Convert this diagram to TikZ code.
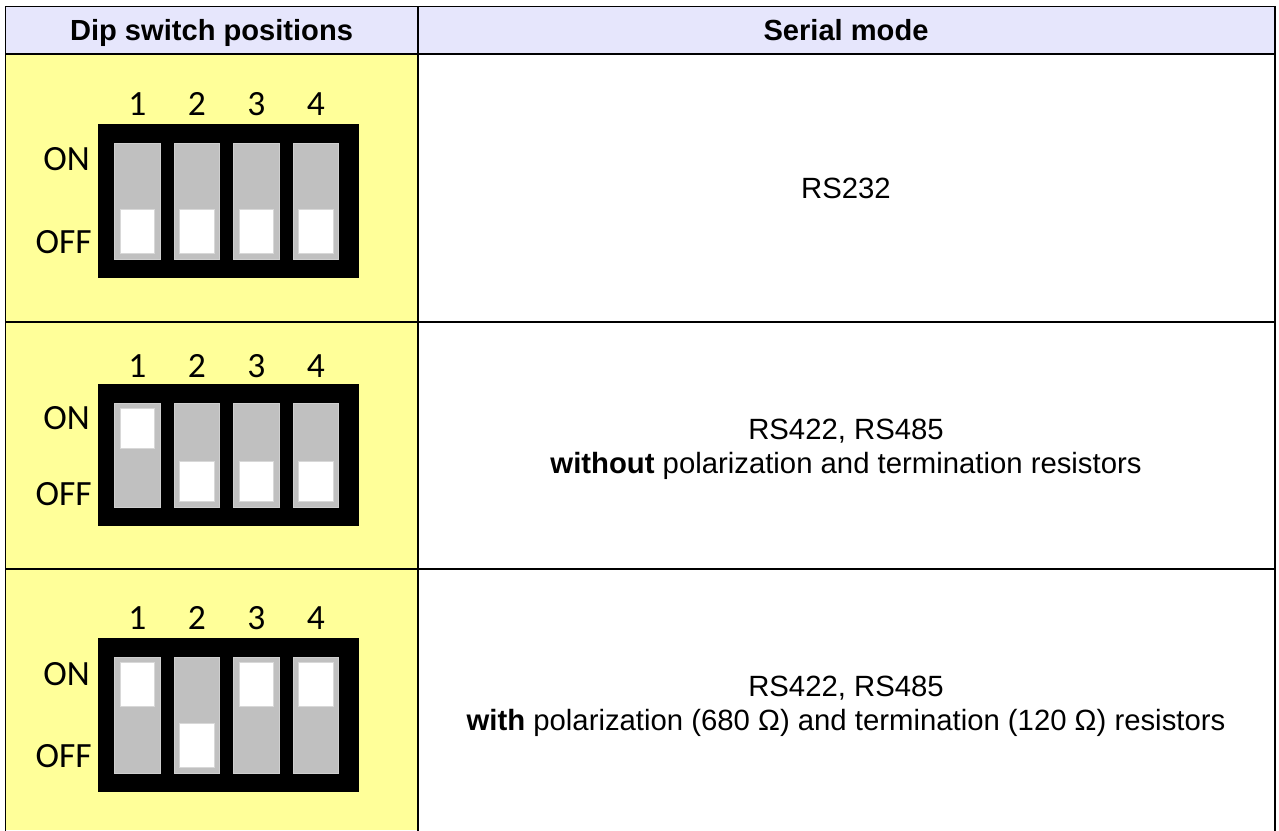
\documentclass[tikz,border=0pt]{standalone}
\usepackage{fontspec}
\setmainfont{Liberation Sans}
\newfontfamily\calib{Carlito}
\definecolor{headfill}{HTML}{E6E6FC}
\definecolor{yellowfill}{HTML}{FFFF99}
\definecolor{slotgrey}{HTML}{C0C0C0}
\definecolor{slotedge}{HTML}{CFCFCF}
\definecolor{knobedge}{HTML}{D8D8D8}
\begin{document}
\begin{tikzpicture}[x=1pt,y=-1pt,
  tline/.style={line width=1.9pt, line cap=rect},
  dipbody/.style={fill=black},
  slotbox/.style={fill=slotgrey, draw=slotedge, line width=0.8pt},
  knobbox/.style={fill=white, draw=knobedge, line width=0.8pt},
  diplabel/.style={font=\calib\fontsize{35.5}{36}\selectfont, inner sep=0pt},
  headtext/.style={font=\bfseries\fontsize{29.1}{35}\selectfont, inner sep=0pt, anchor=base},
  celltext/.style={font=\fontsize{29.3}{35}\selectfont, inner sep=0pt, anchor=base}]
\useasboundingbox (0,0) rectangle (1279,830);
\fill[white] (0,0) rectangle (1279,830);
% cell fills
\fill[headfill] (5.5,6.5) rectangle (1275,54);
\fill[yellowfill] (5.5,54) rectangle (417.7,830);
% grid lines
\draw[tline] (5.5,6.5) -- (1275,6.5);
\draw[tline] (5.5,6.5) -- (5.5,830);
\draw[tline] (1275,6.5) -- (1275,830);
\draw[tline] (417.7,6.5) -- (417.7,830);
\draw[tline] (5.5,54) -- (1275,54);
\draw[tline] (5.5,321.7) -- (1275,321.7);
\draw[tline] (5.5,569.3) -- (1275,569.3);
% headers
\node[headtext] (hdip) at (211.5,40.7) {Dip switch positions};
\node[headtext] (hmode) at (846,40.7) {Serial mode};
% right column texts
\node[celltext] (m1) at (846,198.2) {RS232};
\node[celltext] (m2a) at (846,439.3) {RS422, RS485};
\node[celltext] (m2b) at (846,473.3) {\textbf{without} polarization and termination resistors};
\node[celltext] (m3a) at (846,696) {RS422, RS485};
\node[celltext] (m3b) at (846,730) {\textbf{with} polarization (680 Ω) and termination (120 Ω) resistors};
% dip switches
\foreach \r/\T/\B/\h/\sa/\sb/\sc/\sd/\ny/\ony/\offy in
  {1/124.3/277.7/44/0/0/0/0/115/170/253.5,
   2/384.3/526/40/1/0/0/0/377/429.5/505.5,
   3/638.3/792.3/44/1/0/1/1/629.3/685.5/767.5}{
  \fill[dipbody] (97.5,\T) rectangle (358.5,\B);
  \node[diplabel, anchor=base east] (on\r) at (90,\ony) {ON};
  \node[diplabel, anchor=base east] (off\r) at (92,\offy) {OFF};
  \foreach \s [count=\k] in {\sa,\sb,\sc,\sd}{
    \pgfmathsetmacro\xl{114.7+59.5*(\k-1)}
    \draw[slotbox] ({\xl},{\T+19}) rectangle ({\xl+45.3},{\B-18.5});
    \ifnum\s=1
      \draw[knobbox] ({\xl+5.5},{\T+24.3}) rectangle ({\xl+39.8},{\T+24.3+\h});
    \else
      \draw[knobbox] ({\xl+5.5},{\B-24.5-\h}) rectangle ({\xl+39.8},{\B-24.5});
    \fi
    \node[diplabel, anchor=base] (num\r\k) at ({\xl+22.6},\ny) {\k};
  }
}
\end{tikzpicture}
\end{document}
